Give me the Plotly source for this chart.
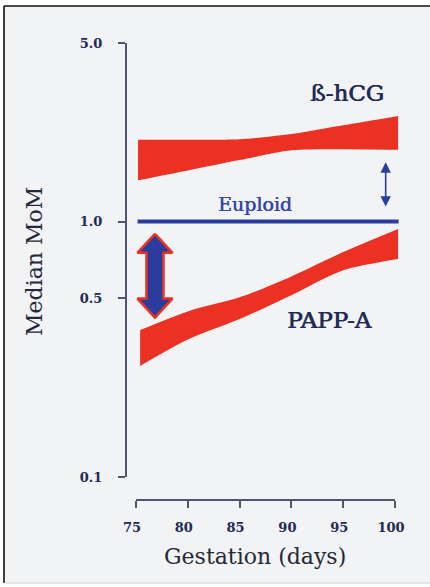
import numpy as np
import plotly.graph_objects as go

# ---------------- data ----------------
hcg_days = [75.2, 80, 85, 90, 95, 100.3]
hcg_upper = [2.09, 2.09, 2.10, 2.20, 2.38, 2.59]
hcg_lower = [1.45, 1.585, 1.74, 1.90, 1.92, 1.91]

pappa_days = [75.4, 80, 85, 90, 95, 100.3]
pappa_upper = [0.376, 0.445, 0.505, 0.61, 0.76, 0.936]
pappa_lower = [0.272, 0.345, 0.415, 0.515, 0.645, 0.714]

euploid_days = [75.15, 100.35]
euploid_mom = [1.0, 1.0]

big_arrow_day = [76.83]
big_arrow_mom = [0.421, 0.895]      # bottom tip, top tip
small_arrow_day = [99.1]
small_arrow_mom = [1.145, 1.73]     # bottom tip, top tip

x_ticks = [75, 80, 85, 90, 95, 100]
y_ticks = [0.1, 0.5, 1.0, 5.0]
y_tick_text = ["0.1", "0.5", "1.0", "5.0"]

# ---------------- layout geometry (pixels) ----------------
W, H = 430, 587
ML, MR, MT, MB = 120, 20, 43, 87
PW, PH = W - ML - MR, H - MT - MB
X75_PX, X100_PX = 136.0, 395.0
YAX_PX = 126.0
PLOT_BOTTOM_PX = 477.0
px_per_day = (X100_PX - X75_PX) / 25.0
XR = [74.5, 100.5]
xd0 = (X75_PX - (75 - XR[0]) * px_per_day - ML) / PW
xd1 = (X100_PX + (XR[1] - 100) * px_per_day - ML) / PW
yd0 = (H - MB - PLOT_BOTTOM_PX) / PH
px_per_decade = (PLOT_BOTTOM_PX - MT) / (np.log10(5) + 1)


def pxx(p):
    return (p - ML) / PW


def pxy(p):
    return (H - MB - p) / PH


RED = "#ea3124"
BLUE = "#2c3c9c"
NAVY = "#222a55"
TXT = "#262838"
AXC = "#4f5470"
FONT = "DejaVu Serif"

fig = go.Figure()

# background panel
fig.add_shape(type="rect", xref="paper", yref="paper",
              x0=pxx(4), x1=pxx(445), y0=pxy(583), y1=pxy(6),
              fillcolor="#f1f3f4", line=dict(width=0), layer="below")
fig.add_shape(type="line", xref="paper", yref="paper",
              x0=pxx(4), x1=pxx(4), y0=pxy(583), y1=pxy(6),
              line=dict(color="#111111", width=1.6), layer="below")
fig.add_shape(type="line", xref="paper", yref="paper",
              x0=pxx(4), x1=pxx(445), y0=pxy(6), y1=pxy(6),
              line=dict(color="#111111", width=1.6), layer="below")
fig.add_shape(type="line", xref="paper", yref="paper",
              x0=pxx(4), x1=pxx(445), y0=pxy(583), y1=pxy(583),
              line=dict(color="#cfd2d6", width=1.2), layer="below")


def band(days, lower, upper):
    fig.add_trace(go.Scatter(x=days, y=lower, mode="lines",
                             line=dict(width=0, shape="spline", smoothing=0.8),
                             hoverinfo="skip"))
    fig.add_trace(go.Scatter(x=days, y=upper, mode="lines", fill="tonexty",
                             fillcolor=RED,
                             line=dict(width=0, shape="spline", smoothing=0.8),
                             hoverinfo="skip"))


band(hcg_days, hcg_lower, hcg_upper)
band(pappa_days, pappa_lower, pappa_upper)

# Euploid line
fig.add_trace(go.Scatter(x=euploid_days, y=euploid_mom, mode="lines",
                         line=dict(color=BLUE, width=4), hoverinfo="skip"))

# big double arrow (polygon in data space)
shaft_half = 8.5 / px_per_day
head_half = 17.5 / px_per_day
head_len = 19.0 / px_per_decade
cx = big_arrow_day[0]
lb, lt = np.log10(big_arrow_mom[0]), np.log10(big_arrow_mom[1])
ax_ = [cx, cx + head_half, cx + shaft_half, cx + shaft_half, cx + head_half,
       cx, cx - head_half, cx - shaft_half, cx - shaft_half, cx - head_half, cx]
ay_ = [lt, lt - head_len, lt - head_len, lb + head_len, lb + head_len,
       lb, lb + head_len, lb + head_len, lt - head_len, lt - head_len, lt]
fig.add_trace(go.Scatter(x=ax_, y=list(10 ** np.array(ay_)), fill="toself",
                         fillcolor=BLUE, mode="lines",
                         line=dict(color=RED, width=2.5), hoverinfo="skip"))

# small double arrow
fig.add_annotation(x=small_arrow_day[0], y=np.log10(small_arrow_mom[0]),
                   ax=small_arrow_day[0], ay=np.log10(small_arrow_mom[1]),
                   xref="x", yref="y", axref="x", ayref="y", text="",
                   showarrow=True, arrowside="end+start", arrowhead=2,
                   arrowsize=1.3, arrowwidth=1.6, arrowcolor=BLUE,
                   standoff=0, startstandoff=0)

# x axis line (75..100)
fig.add_shape(type="line", xref="x", yref="paper", x0=75, x1=100, y0=0, y1=0,
              line=dict(color=AXC, width=2))


def label(text, cx_px, cy_px, size, color, angle=0, shadow="none"):
    fig.add_annotation(x=pxx(cx_px), y=pxy(cy_px), xref="paper", yref="paper",
                       text=text, showarrow=False, xanchor="center",
                       yanchor="middle", textangle=angle,
                       font=dict(family=FONT, size=size, color=color,
                                 shadow=shadow))


semi = "0.8px 0px 0px " + NAVY
label("ß-hCG", 347, 93, 23, NAVY, shadow=semi)
label("PAPP-A", 329, 320, 23, NAVY, shadow=semi)
label("Euploid", 255, 204, 19, "#3646a6", shadow="0.4px 0px 0px #3646a6")
label("Median MoM", 34, 262, 22, TXT, angle=-90)
label("Gestation (days)", 255, 556, 22, TXT)

fig.update_layout(
    width=W, height=H,
    margin=dict(l=ML, r=MR, t=MT, b=MB, pad=0),
    paper_bgcolor="white", plot_bgcolor="rgba(0,0,0,0)",
    showlegend=False,
    xaxis=dict(range=XR, domain=[xd0, xd1], anchor="free", position=0,
               showline=False, showgrid=False, zeroline=False,
               ticks="outside", ticklen=7, tickwidth=2, tickcolor=AXC,
               tickvals=x_ticks, ticklabelshift=-4, ticklabelstandoff=8,
               tickfont=dict(family=FONT, size=13, color=NAVY, weight="bold")),
    yaxis=dict(type="log", range=[-1, np.log10(5)], domain=[yd0, 1],
               anchor="free", position=pxx(YAX_PX),
               showline=True, linecolor=AXC, linewidth=2,
               showgrid=False, zeroline=False,
               ticks="outside", ticklen=7, tickwidth=2, tickcolor=AXC,
               tickvals=y_ticks, ticktext=y_tick_text, ticklabelstandoff=13,
               tickfont=dict(family=FONT, size=13, color=NAVY, weight="bold")),
)

fig.write_html("out.html")
